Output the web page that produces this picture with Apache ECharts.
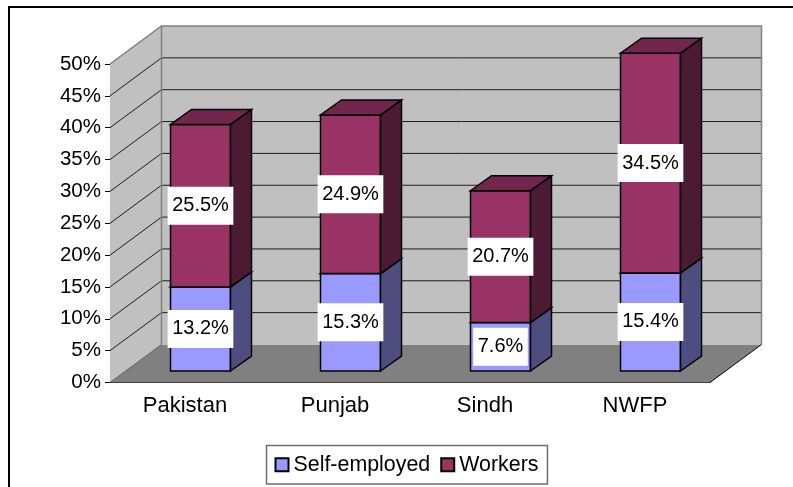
<!DOCTYPE html>
<html>
<head>
<meta charset="utf-8">
<script src="https://cdn.jsdelivr.net/npm/echarts@6/dist/echarts.min.js"></script>
<style>
html, body { margin: 0; padding: 0; background: #fff; }
#chart { width: 793px; height: 487px; }
</style>
</head>
<body>
<div id="chart"></div>
<script>
var categories = ['Pakistan', 'Punjab', 'Sindh', 'NWFP'];
var self_employed = [13.2, 15.3, 7.6, 15.4];
var workers = [25.5, 24.9, 20.7, 34.5];
var y_ticks = [0, 5, 10, 15, 20, 25, 30, 35, 40, 45, 50];

var font = '"Liberation Sans", Arial, sans-serif';

// fake 3d: how far the walls and the bars are pushed back, in pixels
var wall_dx = 51.5, wall_dy = -38;
var bar_dx = 15.5, bar_dy = -11.5;
var depth_dx = 21, depth_dy = -15;

function poly(points, fill, stroke, width) {
    return {
        type: 'polygon',
        shape: { points: points },
        style: { fill: fill, stroke: stroke, lineWidth: width, lineJoin: 'miter' }
    };
}

function line(points, stroke, width) {
    return {
        type: 'polyline',
        shape: { points: points },
        style: { fill: 'none', stroke: stroke, lineWidth: width }
    };
}

function render_walls(params, api) {
    var bl = api.coord([0, 0]);
    var half = api.size([1, 0])[0] / 2;
    var left = bl[0] - half;
    var right = api.coord([categories.length - 1, 0])[0] + half;
    var floor = bl[1];
    var top = api.coord([0, 50])[1];
    var kids = [
        // floor
        poly([[left, floor], [right, floor], [right + wall_dx, floor + wall_dy], [left + wall_dx, floor + wall_dy]], '#808080', 'none', 0),
        // side wall
        poly([[left, floor], [left, top], [left + wall_dx, top + wall_dy], [left + wall_dx, floor + wall_dy]], '#c0c0c0', 'none', 0),
        // back wall
        poly([[left + wall_dx, top + wall_dy], [right + wall_dx, top + wall_dy], [right + wall_dx, floor + wall_dy], [left + wall_dx, floor + wall_dy]], '#c0c0c0', 'none', 0)
    ];
    y_ticks.forEach(function (t) {
        if (t === 0 || t === 50) return;
        var y = api.coord([0, t])[1];
        kids.push(line([[left, y], [left + wall_dx, y + wall_dy], [right + wall_dx, y + wall_dy]], '#1c1c1c', 1));
    });
    // wall edges
    kids.push(line([[left, top], [left + wall_dx, top + wall_dy], [right + wall_dx, top + wall_dy], [right + wall_dx, floor + wall_dy]], '#808080', 1.5));
    kids.push(line([[left + wall_dx, top + wall_dy], [left + wall_dx, floor + wall_dy]], '#808080', 1.5));
    kids.push(line([[left, floor], [left + wall_dx, floor + wall_dy]], '#606060', 1));
    kids.push(line([[right, floor], [right + wall_dx, floor + wall_dy]], '#000', 1));
    return { type: 'group', children: kids };
}

function bar_renderer(front, side, roof) {
    return function (params, api) {
        var c0 = api.coord([api.value(0), api.value(1)]);
        var c1 = api.coord([api.value(0), api.value(1) + api.value(2)]);
        var half = api.size([1, 0])[0] * 0.2;
        var x0 = c0[0] + bar_dx - half, x1 = c0[0] + bar_dx + half;
        var y0 = c0[1] + bar_dy, y1 = c1[1] + bar_dy;
        return {
            type: 'group',
            children: [
                poly([[x0, y0], [x1, y0], [x1, y1], [x0, y1]], front, '#000', 1.5),
                poly([[x1, y0], [x1 + depth_dx, y0 + depth_dy], [x1 + depth_dx, y1 + depth_dy], [x1, y1]], side, '#000', 1.5),
                poly([[x0, y1], [x1, y1], [x1 + depth_dx, y1 + depth_dy], [x0 + depth_dx, y1 + depth_dy]], roof, '#000', 1.5),
                {
                    type: 'text',
                    z2: 10,
                    style: {
                        text: api.value(2).toFixed(1) + '%',
                        x: (x0 + x1) / 2,
                        y: (y0 + y1) / 2,
                        align: 'center',
                        verticalAlign: 'middle',
                        fill: '#000',
                        font: '20px ' + font,
                        backgroundColor: '#fff',
                        padding: [9, 4.5]
                    }
                }
            ]
        };
    };
}

var self_data = [], worker_data = [];
categories.forEach(function (name, i) {
    self_data.push([i, 0, self_employed[i]]);
    worker_data.push([i, self_employed[i], workers[i]]);
});

var option = {
    animation: false,
    backgroundColor: '#fff',
    grid: { left: 110, top: 64, width: 600, height: 318.5 },
    legend: {
        data: ['Self-employed', 'Workers'],
        left: 266.5,
        top: 445.5,
        padding: [8.75, 9, 8.75, 8],
        itemGap: 10,
        itemWidth: 13,
        itemHeight: 13,
        icon: 'rect',
        borderColor: '#707070',
        borderWidth: 1.5,
        selectedMode: false,
        textStyle: { fontFamily: font, fontSize: 21.4, color: '#000' }
    },
    xAxis: {
        type: 'category',
        data: categories,
        axisLine: { lineStyle: { color: '#000', width: 1 } },
        axisTick: { alignWithLabel: false, length: 5, lineStyle: { color: '#000' } },
        axisLabel: { fontFamily: font, fontSize: 22, color: '#000', margin: 12 },
        splitLine: { show: false }
    },
    yAxis: {
        type: 'value',
        min: 0,
        max: 50,
        interval: 5,
        axisLine: { show: true, lineStyle: { color: '#000', width: 1 } },
        axisTick: { show: true, length: 5, lineStyle: { color: '#000' } },
        axisLabel: { formatter: '{value}%', fontFamily: font, fontSize: 20.5, color: '#000', margin: 9, padding: [2, 0, 0, 0] },
        splitLine: { show: false }
    },
    graphic: [
        // the frame round the chart, open at the bottom and right
        { type: 'polyline', shape: { points: [[9, 487], [9, 7], [793, 7]] }, style: { fill: 'none', stroke: '#000', lineWidth: 2 } }
    ],
    series: [
        {
            type: 'custom',
            name: 'walls',
            z: 1,
            silent: true,
            renderItem: render_walls,
            data: [[0, 0]]
        },
        {
            type: 'custom',
            name: 'Self-employed',
            z: 2,
            silent: true,
            itemStyle: { color: '#9999ff', borderColor: '#000', borderWidth: 1.5 },
            renderItem: bar_renderer('#9999ff', '#4d4d80', '#7373bf'),
            data: self_data
        },
        {
            type: 'custom',
            name: 'Workers',
            z: 3,
            silent: true,
            itemStyle: { color: '#993366', borderColor: '#000', borderWidth: 1.5 },
            renderItem: bar_renderer('#993366', '#4d1a33', '#73264d'),
            data: worker_data
        }
    ]
};

var myChart = echarts.init(document.getElementById('chart'), null, { renderer: 'canvas' });
myChart.setOption(option);
</script>
</body>
</html>
